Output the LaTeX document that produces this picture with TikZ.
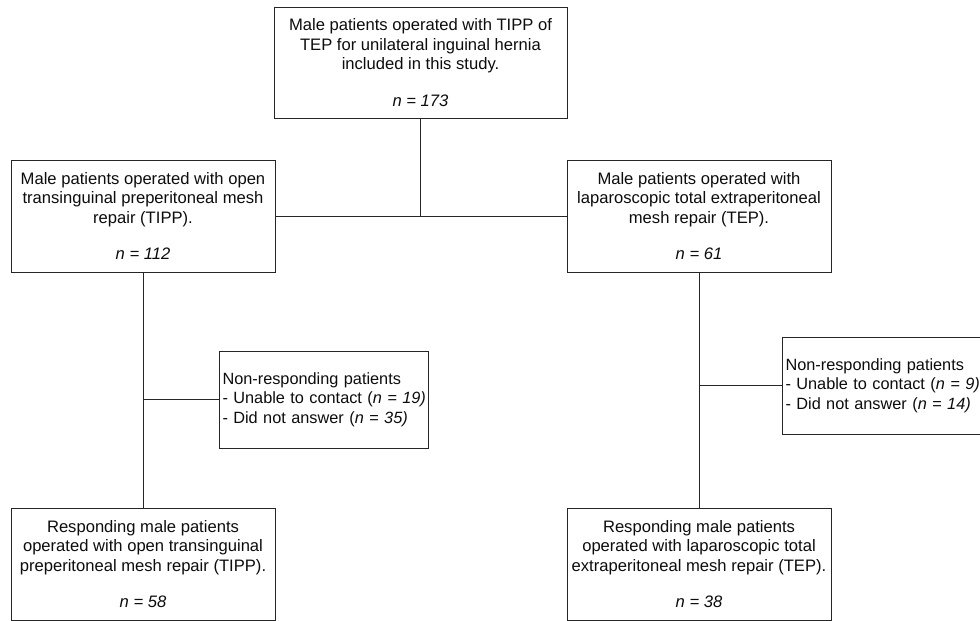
\documentclass[tikz,border=0pt]{standalone}
\usepackage{fontspec}
\setmainfont{Liberation Sans}
\begin{document}
\begin{tikzpicture}[x=1pt,y=-1pt,
  box/.style={draw=black!85, line width=1pt, rectangle, inner sep=0pt, align=center,
    font=\fontsize{16.6}{19.6}\selectfont, text=black!95},
  nrbox/.style={draw=black!85, line width=1pt, rectangle, inner xsep=3.5pt, inner ysep=0pt, align=left,
    font=\fontsize{16.3}{19.5}\selectfont, text=black!95},
  conn/.style={draw=black!85, line width=1pt}]
\useasboundingbox (0,0) rectangle (980,621);
\fill[white] (0,0) rectangle (980,621);

\node[box, minimum width=293pt, minimum height=111pt] (top) at (420.5,62.5)
  {Male patients operated with TIPP of\\TEP for unilateral inguinal hernia\\included in this study.\\[17pt]\textit{n = 173}};
\node[box, minimum width=264pt, minimum height=112pt] (lbox) at (143,216)
  {Male patients operated with open\\transinguinal preperitoneal mesh\\repair (TIPP).\\[17pt]\textit{n = 112}};
\node[box, minimum width=264pt, minimum height=112pt] (rbox) at (699,216)
  {Male patients operated with\\laparoscopic total extraperitoneal\\mesh repair (TEP).\\[17pt]\textit{n = 61}};
\node[nrbox, text width=202pt, minimum height=97pt] (lnr) at (323.5,399.5)
  {\mbox{Non-responding patients}\\\mbox{- Unable to contact (\textit{n = 19)}}\\\mbox{- Did not answer (\textit{n = 35)}}};
\node[nrbox, text width=213pt, minimum height=97pt] (rnr) at (892,385.5)
  {\mbox{Non-responding patients}\\\mbox{- Unable to contact (\textit{n = 9)}}\\\mbox{- Did not answer (\textit{n = 14)}}};
\node[box, minimum width=264pt, minimum height=112pt] (lbot) at (143,564)
  {Responding male patients\\operated with open transinguinal\\preperitoneal mesh repair (TIPP).\\[17pt]\textit{n = 58}};
\node[box, minimum width=264pt, minimum height=112pt] (rbot) at (699,564)
  {Responding male patients\\operated with laparoscopic total\\extraperitoneal mesh repair (TEP).\\[17pt]\textit{n = 38}};

\coordinate (tj) at (top.south |- lbox.east);
\coordinate (lj) at (lbox.south |- lnr.west);
\coordinate (rj) at (rbox.south |- rnr.west);
\draw[conn] (top.south) -- (tj);
\draw[conn] (lbox.east) -- (rbox.west);
\draw[conn] (lbox.south) -- (lbot.north);
\draw[conn] (lj) -- (lnr.west);
\draw[conn] (rbox.south) -- (rbot.north);
\draw[conn] (rj) -- (rnr.west);
\end{tikzpicture}
\end{document}
